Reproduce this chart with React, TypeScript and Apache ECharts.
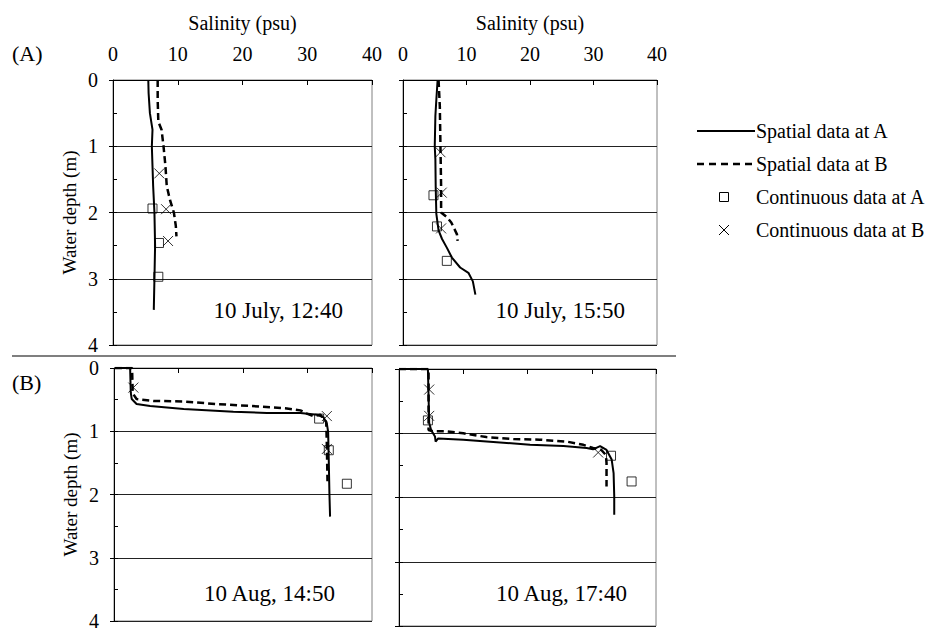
import React, { useEffect, useRef } from "react";
import * as echarts from "echarts";

const FONT = "'Liberation Serif', 'Times New Roman', serif";

// Salinity axis ticks (psu) and depth axis ticks (m)
const salinityTicks = [0, 10, 20, 30, 40];
const depthTicks = [0, 1, 2, 3, 4];

const panelLabels = ["10 July, 12:40", "10 July, 15:50", "10 Aug, 14:50", "10 Aug, 17:40"];
const seriesNames = ["Spatial data at A", "Spatial data at B", "Continuous data at A", "Continuous data at B"];

// [salinity, depth]
const jul1240SpatialA: [number, number][] = [[5.45, 0], [5.5, 0.2], [5.7, 0.5], [6.1, 0.75], [6.0, 1.0], [6.1, 1.3], [6.2, 1.6], [6.4, 2.0], [6.5, 2.5], [6.4, 3.0], [6.3, 3.47]];
const jul1240SpatialB: [number, number][] = [[6.9, 0], [6.9, 0.3], [7.0, 0.63], [7.5, 0.75], [7.8, 1.0], [8.1, 1.3], [8.3, 1.6], [8.8, 1.81], [9.4, 2.0], [9.7, 2.2], [9.8, 2.36]];
const jul1240ContA: [number, number][] = [[6.1, 1.94], [7.1, 2.46], [7.0, 2.97]];
const jul1240ContB: [number, number][] = [[7.15, 1.41], [8.2, 1.95], [8.5, 2.43]];

const jul1550SpatialA: [number, number][] = [[5.45, 0], [5.25, 0.3], [5.1, 0.54], [5.0, 1.0], [5.1, 1.2], [5.15, 1.61], [5.25, 2.02], [5.6, 2.27], [6.15, 2.4], [6.9, 2.53], [7.7, 2.68], [9.0, 2.83], [10.3, 2.91], [11.0, 3.04], [11.4, 3.24]];
const jul1550SpatialB: [number, number][] = [[5.6, 0], [5.8, 0.4], [5.9, 1.0], [6.0, 1.6], [6.0, 2.0], [6.9, 2.07], [7.6, 2.15], [8.1, 2.25], [8.5, 2.33], [8.6, 2.43]];
const jul1550ContA: [number, number][] = [[4.8, 1.74], [5.35, 2.21], [6.9, 2.73]];
const jul1550ContB: [number, number][] = [[5.9, 1.09], [6.1, 1.7], [6.0, 2.24]];

const aug1450SpatialA: [number, number][] = [[0.15, 0], [2.5, 0], [2.6, 0.39], [2.75, 0.49], [3.5, 0.57], [5.6, 0.6], [10.8, 0.65], [18.5, 0.69], [23.7, 0.71], [28.9, 0.71], [31.5, 0.74], [32.5, 0.78], [33.0, 0.88], [33.2, 1.01], [33.3, 1.47], [33.4, 1.99], [33.5, 2.35]];
const aug1450SpatialB: [number, number][] = [[0.15, 0], [2.8, 0], [2.9, 0.4], [3.5, 0.49], [6.1, 0.52], [10.8, 0.53], [15.9, 0.57], [21.1, 0.6], [26.8, 0.64], [28.9, 0.67], [29.9, 0.72], [30.9, 0.76], [32.0, 0.74], [32.9, 0.85], [33.0, 1.22], [33.1, 1.79]];
const aug1450ContA: [number, number][] = [[31.8, 0.8], [33.3, 1.3], [36.1, 1.83]];
const aug1450ContB: [number, number][] = [[3.0, 0.31], [33.0, 0.76], [33.0, 1.28]];

const aug1740SpatialA: [number, number][] = [[0, 0], [4.5, 0], [4.7, 0.84], [5.0, 0.95], [5.6, 1.05], [5.7, 1.13], [6.1, 1.08], [10.0, 1.1], [15.2, 1.14], [20.4, 1.18], [25.6, 1.2], [29.2, 1.23], [30.2, 1.25], [31.3, 1.2], [32.3, 1.26], [33.1, 1.41], [33.4, 1.62], [33.5, 1.98], [33.5, 2.27]];
const aug1740SpatialB: [number, number][] = [[0, 0], [4.6, 0], [4.6, 0.95], [5.3, 0.97], [7.4, 0.97], [10.0, 1.0], [13.6, 1.06], [17.8, 1.09], [21.9, 1.1], [26.1, 1.13], [28.7, 1.18], [30.2, 1.23], [31.5, 1.26], [32.2, 1.34], [32.3, 1.46], [32.3, 1.83]];
const aug1740ContA: [number, number][] = [[4.5, 0.8], [33.0, 1.35], [36.2, 1.75]];
const aug1740ContB: [number, number][] = [[4.7, 0.32], [4.7, 0.73], [31.0, 1.3]];

const panels = [
  { spatialA: jul1240SpatialA, spatialB: jul1240SpatialB, contA: jul1240ContA, contB: jul1240ContB },
  { spatialA: jul1550SpatialA, spatialB: jul1550SpatialB, contA: jul1550ContA, contB: jul1550ContB },
  { spatialA: aug1450SpatialA, spatialB: aug1450SpatialB, contA: aug1450ContA, contB: aug1450ContB },
  { spatialA: aug1740SpatialA, spatialB: aug1740SpatialB, contA: aug1740ContA, contB: aug1740ContB },
];

const gridBoxes = [
  { left: 113, top: 80, width: 259, height: 265 },
  { left: 403, top: 80, width: 254, height: 265 },
  { left: 114, top: 368, width: 258, height: 258 },
  { left: 399, top: 369, width: 257, height: 257 },
];

const labelPos = [
  { x: 343, y: 310 },
  { x: 625, y: 310 },
  { x: 335, y: 593 },
  { x: 627, y: 593 },
];

const CROSS = "path://M0,0L10,10M10,0L0,10";

function buildOption() {
  const grid = gridBoxes.map((g) => ({
    ...g,
    show: true,
    borderColor: "#808080",
    borderWidth: 1,
    backgroundColor: "transparent",
  }));

  const xAxis = gridBoxes.map((_, i) => ({
    type: "value",
    gridIndex: i,
    position: "top",
    min: salinityTicks[0],
    max: salinityTicks[salinityTicks.length - 1],
    interval: salinityTicks[1] - salinityTicks[0],
    axisLine: { show: true, lineStyle: { color: "#000", width: 1 } },
    axisTick: { show: true, inside: true, length: 5, lineStyle: { color: "#000" } },
    axisLabel: { show: i < 2, fontFamily: FONT, fontSize: 20, color: "#000", margin: 16 },
    splitLine: { show: false },
    name: i < 2 ? "Salinity (psu)" : "",
    nameLocation: "middle",
    nameGap: 47,
    nameTextStyle: { fontFamily: FONT, fontSize: 20, color: "#000" },
  }));

  const yAxis: any[] = [];
  gridBoxes.forEach((_, i) => {
    yAxis.push({
      type: "value",
      gridIndex: i,
      position: "left",
      inverse: true,
      min: depthTicks[0],
      max: depthTicks[depthTicks.length - 1],
      interval: depthTicks[1] - depthTicks[0],
      axisLine: { show: true, lineStyle: { color: "#000", width: 1 } },
      axisTick: { show: true, inside: false, length: 4, lineStyle: { color: "#000" } },
      axisLabel: { show: i % 2 === 0, fontFamily: FONT, fontSize: 20, color: "#000", margin: 15 },
      splitLine: { show: true, lineStyle: { color: "#222", width: 1 } },
      name: i % 2 === 0 ? "Water depth (m)" : "",
      nameLocation: "middle",
      nameGap: 34,
      nameTextStyle: { fontFamily: FONT, fontSize: 19, color: "#000" },
    });
  });
  // minor inside ticks every 0.5 m
  gridBoxes.forEach((_, i) => {
    yAxis.push({
      type: "value",
      gridIndex: i,
      position: "left",
      offset: 0,
      inverse: true,
      min: 0,
      max: 4,
      interval: 0.5,
      axisLine: { show: false, onZero: false },
      axisTick: { show: true, inside: true, length: 4, lineStyle: { color: "#000" } },
      axisLabel: { show: false },
      splitLine: { show: false },
    });
  });

  const series: any[] = [];
  panels.forEach((p, i) => {
    series.push({
      type: "line",
      name: seriesNames[0],
      xAxisIndex: i,
      yAxisIndex: i,
      data: p.spatialA,
      symbol: "none",
      lineStyle: { color: "#000", width: 2 },
      z: 3,
    });
    series.push({
      type: "line",
      name: seriesNames[1],
      xAxisIndex: i,
      yAxisIndex: i,
      data: p.spatialB,
      symbol: "none",
      lineStyle: { color: "#000", width: 2.5, type: [7, 4] },
      z: 3,
    });
    series.push({
      type: "scatter",
      name: seriesNames[2],
      xAxisIndex: i,
      yAxisIndex: i,
      data: p.contA,
      symbol: "rect",
      symbolSize: 9,
      itemStyle: { color: "rgba(255,255,255,0)", borderColor: "#000", borderWidth: 1 },
      z: 4,
    });
    series.push({
      type: "scatter",
      name: seriesNames[3],
      xAxisIndex: i,
      yAxisIndex: i,
      data: p.contB,
      symbol: CROSS,
      symbolSize: 10,
      itemStyle: { color: "none", borderColor: "#000", borderWidth: 1 },
      z: 4,
    });
  });

  const textStyle = (size: number) => ({ fill: "#000", font: `${size}px ${FONT}` });

  const graphic: any[] = [
    // separator between (A) and (B)
    { type: "line", shape: { x1: 12, y1: 356, x2: 676, y2: 356 }, style: { stroke: "#555", lineWidth: 1.5 } },
    { type: "text", x: 12, y: 53, style: { text: "(A)", ...textStyle(22), textVerticalAlign: "middle" } },
    { type: "text", x: 12, y: 382, style: { text: "(B)", ...textStyle(22), textVerticalAlign: "middle" } },
    // legend
    { type: "line", shape: { x1: 697, y1: 131, x2: 755, y2: 131 }, style: { stroke: "#000", lineWidth: 2 } },
    { type: "text", x: 756, y: 131, style: { text: seriesNames[0], ...textStyle(20), textVerticalAlign: "middle" } },
    { type: "line", shape: { x1: 697, y1: 164, x2: 755, y2: 164 }, style: { stroke: "#000", lineWidth: 2.5, lineDash: [7, 5] } },
    { type: "text", x: 756, y: 164, style: { text: seriesNames[1], ...textStyle(20), textVerticalAlign: "middle" } },
    { type: "rect", shape: { x: 719.5, y: 192.5, width: 9, height: 9 }, style: { fill: "none", stroke: "#000", lineWidth: 1 } },
    { type: "text", x: 756, y: 197, style: { text: seriesNames[2], ...textStyle(20), textVerticalAlign: "middle" } },
    { type: "line", shape: { x1: 719, y1: 225, x2: 729, y2: 235 }, style: { stroke: "#000", lineWidth: 1 } },
    { type: "line", shape: { x1: 729, y1: 225, x2: 719, y2: 235 }, style: { stroke: "#000", lineWidth: 1 } },
    { type: "text", x: 756, y: 230, style: { text: seriesNames[3], ...textStyle(20), textVerticalAlign: "middle" } },
  ];
  panelLabels.forEach((t, i) => {
    graphic.push({
      type: "text",
      x: labelPos[i].x,
      y: labelPos[i].y,
      style: { text: t, ...textStyle(23), textAlign: "right", textVerticalAlign: "middle" },
    });
  });

  return {
    animation: false,
    backgroundColor: "#fff",
    textStyle: { fontFamily: FONT, color: "#000" },
    grid,
    xAxis,
    yAxis,
    series,
    graphic,
  };
}

export default function App() {
  const ref = useRef<HTMLDivElement>(null);
  useEffect(() => {
    if (!ref.current) return;
    const chart = echarts.init(ref.current, null, { renderer: "svg" });
    chart.setOption(buildOption() as any);
    return () => chart.dispose();
  }, []);
  return (
    <div
      ref={ref}
      style={{ position: "fixed", left: 0, top: 0, width: 931, height: 631, background: "#fff" }}
    />
  );
}
